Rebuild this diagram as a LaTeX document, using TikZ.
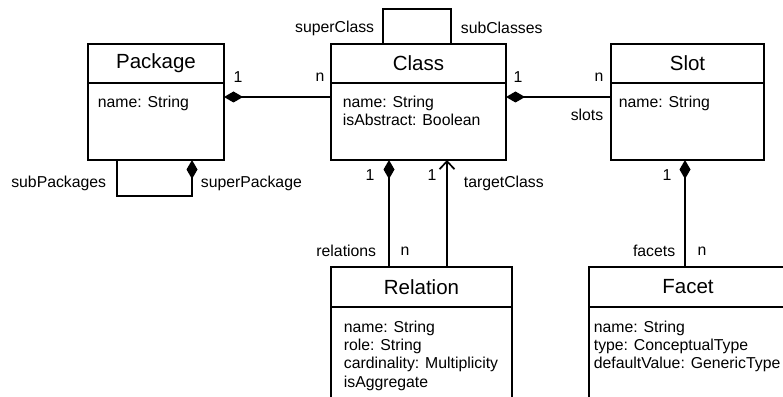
\documentclass[tikz,border=0pt]{standalone}
\usepackage{fontspec}
\setmainfont{Liberation Sans}
\usetikzlibrary{arrows.meta,positioning}

\begin{document}
\begin{tikzpicture}[
    x=1pt, y=1pt,
    line width=1.7pt,
    every node/.style={font=\fontsize{15.8}{18.2}\selectfont, inner sep=0pt},
    titlebox/.style={draw, outer sep=0pt, minimum height=39pt, font=\fontsize{20.5}{24}\selectfont},
    bodybox/.style={draw, outer sep=0pt, minimum height=77pt},
    attr/.style={anchor=north west, align=left},
    comp/.style={{Diamond[length=19pt,width=11pt]}-},
    nav/.style={-{Straight Barb[length=8pt,width=15pt]}}
]
  \useasboundingbox (0,0) rectangle (783,396);
  \clip (0,0) rectangle (783,396);

  % classes
  \node[titlebox, minimum width=136pt] (pkgT) at (156,332.5) {Package};
  \node[bodybox, minimum width=136pt, below=0pt of pkgT] (pkgB) {};
  \node[attr] (pkgA) at ([xshift=9pt,yshift=-10.5pt]pkgB.north west) {\strut name: String};

  \node[titlebox, minimum width=175pt] (clsT) at (418.5,332.5) {Class};
  \node[bodybox, minimum width=175pt, below=0pt of clsT] (clsB) {};
  \node[attr] (clsA) at ([xshift=11pt,yshift=-10.5pt]clsB.north west) {\strut name: String\\isAbstract: Boolean};

  \node[titlebox, minimum width=153pt] (slotT) at (687.5,332.5) {Slot};
  \node[bodybox, minimum width=153pt, below=0pt of slotT] (slotB) {};
  \node[attr] (slotA) at ([xshift=7pt,yshift=-10.5pt]slotB.north west) {\strut name: String};

  \node[titlebox, minimum width=181pt, minimum height=40pt] (relT) at (421.5,109) {Relation};
  \node[bodybox, minimum width=181pt, minimum height=120pt, below=0pt of relT] (relB) {};
  \node[attr] (relA) at ([xshift=12pt,yshift=-12pt]relB.north west) {\strut name: String\\role: String\\cardinality: Multiplicity\\isAggregate};

  \node[titlebox, minimum width=198pt, minimum height=40pt] (facT) at (688,109) {Facet};
  \node[bodybox, minimum width=198pt, minimum height=120pt, below=0pt of facT] (facB) {};
  \node[attr] (facA) at ([xshift=4pt,yshift=-12pt]facB.north west) {\strut name: String\\type: ConceptualType\\defaultValue: GenericType};

  % associations
  \draw[comp] ([yshift=-14pt]pkgB.north east) -- ([yshift=-14pt]clsB.north west);
  \draw[comp] ([yshift=-14pt]clsB.north east) -- ([yshift=-14pt]slotB.north west);
  \draw ([xshift=-35.5pt]clsT.north) -- ++(0,35) -| ([xshift=32.5pt]clsT.north);
  \draw[comp] ([xshift=104pt]pkgB.south west) -- ++(0,-36) -| ([xshift=29pt]pkgB.south west);
  \draw[comp] ([xshift=58pt]clsB.south west) -- ([xshift=58pt]relT.north west);
  \draw[nav] ([xshift=116pt]relT.north west) -- ([xshift=116pt]clsB.south west);
  \draw[comp] ([xshift=74pt]slotB.south west) coordinate (sf) -- (sf |- facT.north);

  % role names and multiplicities
  \node (pkgOne) at (238,319) {1};
  \node (clsN) at (320,319) {n};
  \node[anchor=east] (superCls) at (375,368) {superClass};
  \node[anchor=west] (subCls) at (460,368) {subClasses};
  \node (clsOne) at (518,319) {1};
  \node (slotN) at (599,319) {n};
  \node (slotsLbl) at (587,281) {slots};
  \node[anchor=east] (subPkg) at (107,213) {subPackages};
  \node[anchor=west] (superPkg) at (200,213) {superPackage};
  \node (relOne) at (370,221) {1};
  \node (tgtOne) at (432,221) {1};
  \node[anchor=west] (tgtLbl) at (463,213) {targetClass};
  \node[anchor=east] (relsLbl) at (377,145) {relations};
  \node (relN) at (405,145) {n};
  \node (facOne) at (667,221) {1};
  \node[anchor=east] (facsLbl) at (676,145) {facets};
  \node (facN) at (702,145) {n};
\end{tikzpicture}
\end{document}
